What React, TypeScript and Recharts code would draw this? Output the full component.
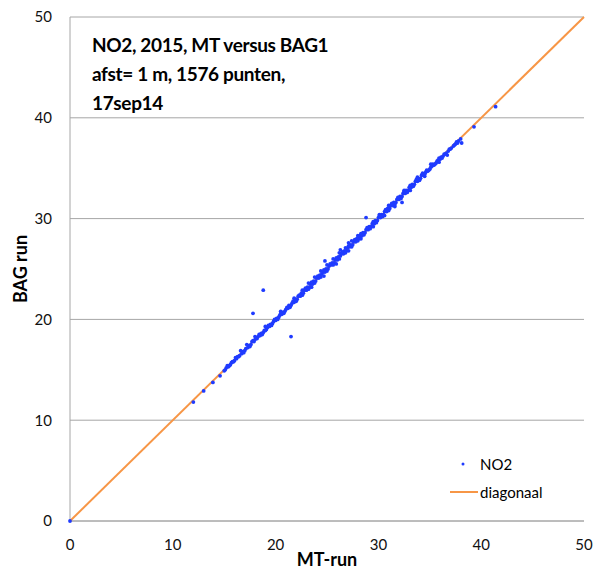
import React from 'react';
import { ScatterChart, Scatter, XAxis, YAxis, CartesianGrid, Legend, Label } from 'recharts';

const xTicks = [0, 10, 20, 30, 40, 50];
const yTicks = [0, 10, 20, 30, 40, 50];
const titleLines = ['NO2, 2015, MT versus BAG1', 'afst= 1 m, 1576 punten,', '17sep14'];
const diagonalPairs: [number, number][] = [[0, 0], [50, 50]];

// [MT-run, BAG run]
const no2Pairs: [number, number][] = [
  [0, 0],
  [12.0, 11.8], [13.0, 12.9], [13.9, 13.75], [14.6, 14.4], [15.0, 14.9], [15.2, 15.2], [15.4, 15.3], [15.6, 15.5],
  [15.8, 15.8], [16.0, 15.9], [16.2, 16.1], [16.3, 16.3], [16.5, 16.4], [16.7, 16.6], [16.8, 16.8], [17.0, 16.9],
  [17.1, 17.1], [17.3, 17.2], [17.4, 17.4], [17.6, 17.5], [17.7, 17.8], [17.9, 17.8], [18.0, 18.0], [18.2, 18.1],
  [18.3, 18.3], [18.5, 18.4], [18.6, 18.6], [18.8, 18.7], [18.9, 18.9], [19.1, 19.0], [19.2, 19.2], [19.4, 19.3],
  [19.5, 19.5], [19.7, 19.6], [19.8, 19.8], [20.0, 19.9], [20.1, 20.1], [20.3, 20.2], [20.4, 20.4], [20.6, 20.5],
  [20.7, 20.7], [20.9, 20.8], [21.0, 21.0], [21.2, 21.1], [21.3, 21.4], [21.5, 21.4], [21.6, 21.6], [21.8, 21.7],
  [21.9, 22.0], [22.1, 22.0], [22.2, 22.3], [22.4, 22.3], [22.5, 22.6], [22.7, 22.6], [22.8, 22.9], [23.0, 22.9],
  [23.1, 23.2], [23.3, 23.2], [23.4, 23.5], [23.6, 23.5], [23.7, 23.8], [23.9, 23.8], [24.0, 24.1], [24.2, 24.1],
  [24.3, 24.4], [24.5, 24.5], [24.6, 24.7], [24.8, 24.7], [24.9, 25.0], [25.1, 25.0], [25.2, 25.3], [25.4, 25.4],
  [25.5, 25.6], [25.7, 25.6], [25.8, 25.9], [26.0, 25.9], [26.1, 26.2], [26.3, 26.3], [26.4, 26.5], [26.6, 26.5],
  [26.7, 26.8], [26.9, 26.8], [27.0, 27.1], [27.2, 27.2], [27.3, 27.4], [27.5, 27.4], [27.6, 27.7], [27.8, 27.7],
  [27.9, 28.0], [28.1, 28.0], [28.2, 28.3], [28.4, 28.3], [28.5, 28.6], [28.7, 28.6], [28.8, 28.9], [29.0, 28.9],
  [29.1, 29.2], [29.3, 29.2], [29.4, 29.5], [29.6, 29.5], [29.7, 29.8], [29.9, 29.8], [30.0, 30.1], [30.2, 30.1],
  [30.3, 30.4], [30.5, 30.4], [30.6, 30.7], [30.8, 30.7], [30.9, 31.0], [31.1, 31.0], [31.2, 31.3], [31.4, 31.3],
  [31.5, 31.6], [31.7, 31.6], [31.8, 31.9], [32.0, 31.9], [32.1, 32.2], [32.3, 32.2], [32.4, 32.5], [32.6, 32.5],
  [32.7, 32.8], [32.9, 32.8], [33.0, 33.1], [33.2, 33.1], [33.3, 33.4], [33.5, 33.4], [33.6, 33.7], [33.8, 33.7],
  [33.9, 34.0], [34.1, 34.0], [34.2, 34.3], [34.4, 34.3], [34.6, 34.6], [34.8, 34.7], [35.0, 34.9], [35.2, 35.2],
  [35.4, 35.3], [35.6, 35.5], [35.8, 35.8], [36.0, 35.9], [36.3, 36.2], [36.5, 36.4], [36.8, 36.7], [37.0, 36.9],
  [37.3, 37.2], [37.5, 37.4], [37.8, 37.7], [38.0, 37.9],
  [15.1, 15.0], [15.3, 15.4], [15.5, 15.4], [15.7, 15.7], [15.9, 15.8], [16.1, 16.2], [16.4, 16.3], [16.9, 16.7],
  [17.5, 17.3], [17.8, 17.9], [18.1, 18.2], [18.4, 18.5], [18.7, 18.5], [19.0, 18.9], [19.3, 19.4], [19.6, 19.4],
  [19.9, 20.0], [20.2, 20.0], [20.5, 20.6], [20.8, 20.6], [21.1, 21.2], [21.4, 21.2], [21.7, 21.8], [22.0, 21.8],
  [22.3, 22.4], [22.6, 22.4], [22.9, 23.1], [23.2, 23.0], [23.5, 23.7], [23.8, 23.6], [24.1, 24.3], [24.4, 24.2],
  [24.7, 24.9], [25.0, 24.8], [25.3, 25.5], [25.6, 25.4], [25.9, 26.1], [26.2, 26.0], [26.5, 26.7], [26.8, 26.6],
  [27.1, 27.3], [27.4, 27.2], [27.7, 27.9], [28.0, 27.8], [28.3, 28.5], [28.6, 28.4], [28.9, 29.1], [29.2, 29.0],
  [29.5, 29.7], [29.8, 29.6], [30.1, 30.3], [30.4, 30.2], [30.7, 30.9], [31.0, 30.8], [31.3, 31.5], [31.6, 31.4],
  [31.9, 32.1], [32.2, 32.0], [32.5, 32.7], [32.8, 32.6], [33.1, 33.3], [33.4, 33.2], [33.7, 33.9], [34.0, 33.8],
  [34.3, 34.5], [34.5, 34.4], [34.7, 34.8], [34.9, 34.8], [35.1, 35.1], [35.3, 35.4], [35.5, 35.4], [35.7, 35.7],
  [35.9, 36.0], [36.1, 36.1], [36.2, 36.0], [36.4, 36.4], [36.6, 36.5], [36.9, 36.9], [37.1, 37.0], [37.4, 37.3],
  [37.6, 37.6], [37.7, 37.5],
  [20.5, 20.8], [21.8, 22.1], [22.6, 22.9], [23.2, 23.6], [23.8, 24.2], [24.4, 24.8], [25.0, 25.4], [25.6, 26.0],
  [26.2, 26.6], [26.8, 27.1], [27.4, 27.8], [28.0, 28.3], [23.5, 23.2], [24.7, 24.3], [25.9, 25.5], [27.1, 26.8],
  [28.3, 28.0], [29.5, 29.2], [30.6, 30.3], [31.6, 31.2], [32.3, 31.6], [33.1, 32.8], [34.5, 34.2], [35.9, 35.6],
  [36.7, 36.3], [30.1, 30.4], [31.0, 31.3], [32.5, 32.8], [33.8, 34.1], [35.1, 35.4], [19.0, 19.3], [18.0, 18.3],
  [17.2, 17.5], [16.6, 16.9],
  [17.8, 20.6], [18.8, 22.9], [21.5, 18.3], [24.8, 25.8], [26.3, 26.9], [27.1, 27.6], [28.8, 30.1],
  [38.1, 37.5], [39.3, 39.1], [41.4, 41.1],
];

const no2Data = no2Pairs.map(([x, y]) => ({ x, y }));
const diagonalData = diagonalPairs.map(([x, y]) => ({ x, y }));

const BLUE = '#1f3bff';
const ORANGE = '#f79646';
const GRID = '#a6a6a6';
const FONT = 'Lato, "Open Sans", sans-serif';

const Dot = (props: any) => <circle cx={props.cx} cy={props.cy} r={1.9} fill={BLUE} />;
const NoShape = () => <g />;

const LegendBox = () => (
  <div style={{ position: 'relative', width: 140, height: 70, fontFamily: FONT, fontSize: 15, color: '#000' }}>
    <svg width={40} height={70} style={{ position: 'absolute', left: 0, top: 0 }}>
      <circle cx={23} cy={13} r={1.5} fill={BLUE} />
      <line x1={10} y1={41} x2={38} y2={41} stroke={ORANGE} strokeWidth={2} />
    </svg>
    <div style={{ position: 'absolute', left: 40, top: 3, lineHeight: '20px' }}>NO2</div>
    <div style={{ position: 'absolute', left: 40, top: 31, lineHeight: '20px' }}>diagonaal</div>
  </div>
);

export default function App() {
  return (
    <div style={{ position: 'absolute', left: 0, top: 0, width: 595, height: 571, background: '#fff', fontFamily: FONT }}>
      <ScatterChart width={595} height={571} margin={{ top: 17, right: 11, bottom: 0, left: 0 }}>
        <CartesianGrid vertical={false} stroke={GRID} strokeWidth={1} />
        <XAxis
          type="number"
          dataKey="x"
          domain={[0, 50]}
          ticks={xTicks}
          height={50}
          tickLine={false}
          axisLine={{ stroke: GRID }}
          tickMargin={12}
          tick={{ fontSize: 15, fill: '#111', fontFamily: FONT }}
        >
          <Label
            content={() => (
              <text x={327} y={566} textAnchor="middle" fontWeight="bold" fontSize={18} fill="#000" fontFamily={FONT}>
                MT-run
              </text>
            )}
          />
        </XAxis>
        <YAxis
          type="number"
          dataKey="y"
          domain={[0, 50]}
          ticks={yTicks}
          width={70}
          tickLine={false}
          axisLine={{ stroke: GRID }}
          tickMargin={12}
          tick={{ fontSize: 15, fill: '#111', fontFamily: FONT }}
        >
          <Label
            content={() => (
              <text
                x={20}
                y={269}
                transform="rotate(-90 20 269)"
                textAnchor="middle"
                dominantBaseline="central"
                fontWeight="bold"
                fontSize={18}
                fill="#000"
                fontFamily={FONT}
              >
                BAG run
              </text>
            )}
          />
        </YAxis>
        <Scatter
          name="diagonaal"
          data={diagonalData}
          line={{ stroke: ORANGE, strokeWidth: 2 }}
          shape={NoShape}
          isAnimationActive={false}
        />
        <Scatter name="NO2" data={no2Data} shape={Dot} fill={BLUE} isAnimationActive={false} />
        <Legend
          layout="vertical"
          align="center"
          verticalAlign="middle"
          content={LegendBox}
          wrapperStyle={{ left: 440, top: 451, width: 140, height: 70 }}
        />
      </ScatterChart>
      <div
        style={{
          position: 'absolute',
          left: 92,
          top: 30,
          fontFamily: FONT,
          fontWeight: 'bold',
          fontSize: 19,
          letterSpacing: '-0.35px',
          lineHeight: '29px',
          color: '#000',
          whiteSpace: 'nowrap',
        }}
      >
        {titleLines.map((t) => (
          <div key={t}>{t}</div>
        ))}
      </div>
    </div>
  );
}
